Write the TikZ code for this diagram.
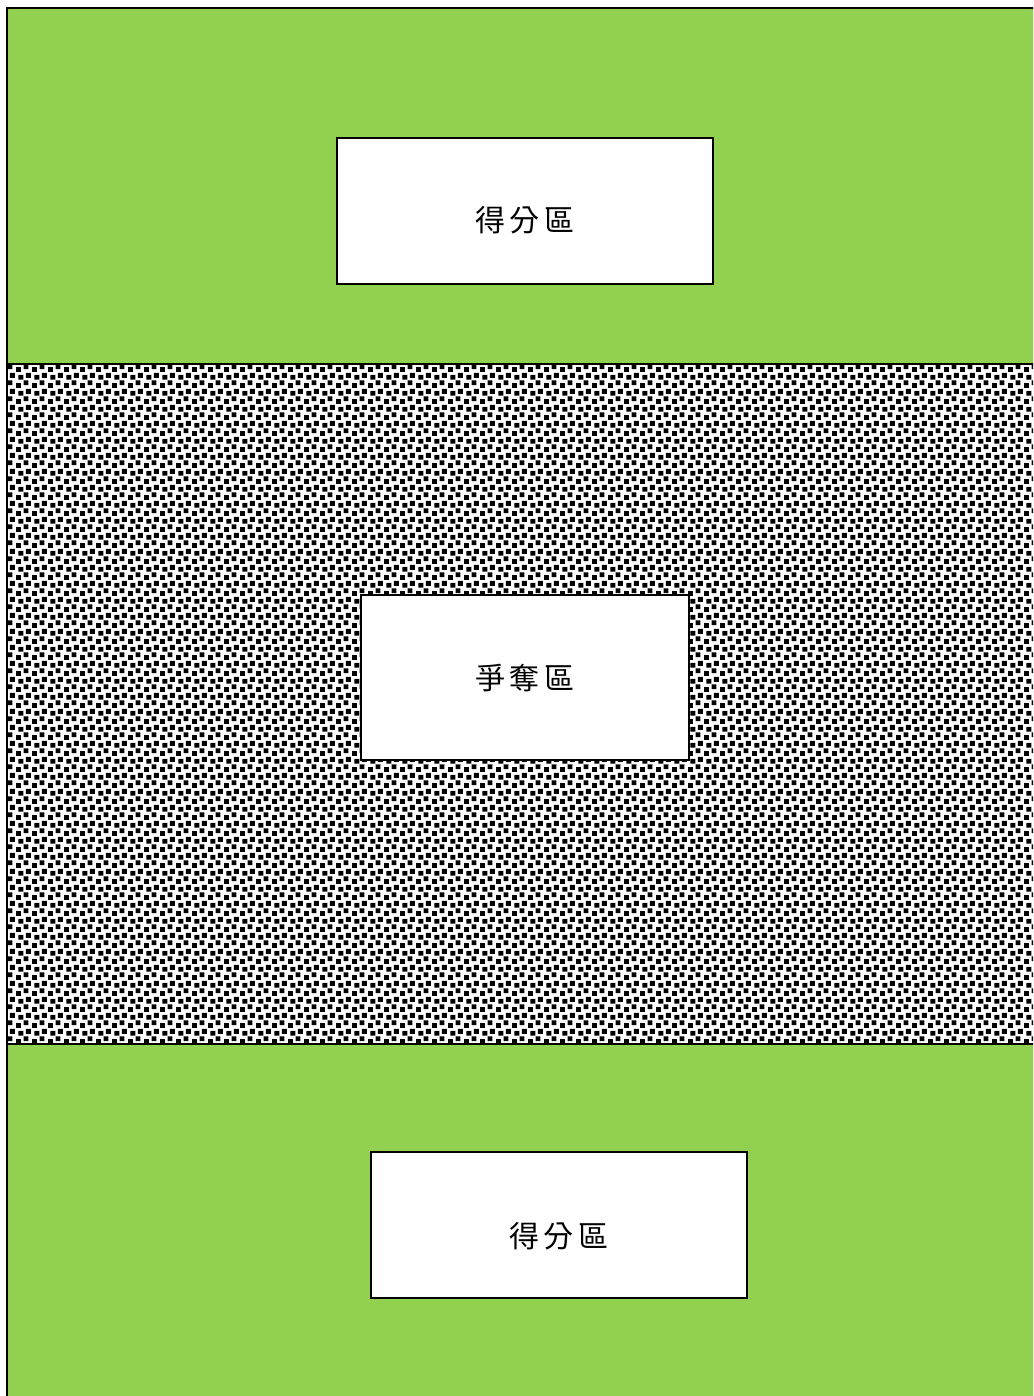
\documentclass[tikz,border=0pt]{standalone}
\usepackage{fontspec}
\newfontfamily\cjk{Noto Sans CJK TC}
\usetikzlibrary{patterns}
\definecolor{fieldgreen}{RGB}{146,208,80}
% scattered small squares for the middle strip
\pgfdeclarepatternformonly{confetti}{\pgfpointorigin}{\pgfqpoint{8pt}{8pt}}{\pgfqpoint{8pt}{8pt}}{
  \pgfpathrectangle{\pgfqpoint{0pt}{0pt}}{\pgfqpoint{2.6pt}{2.6pt}}
  \pgfpathrectangle{\pgfqpoint{4pt}{1.5pt}}{\pgfqpoint{2.6pt}{2.6pt}}
  \pgfpathrectangle{\pgfqpoint{1.3pt}{4.4pt}}{\pgfqpoint{2.6pt}{2.6pt}}
  \pgfpathrectangle{\pgfqpoint{5.3pt}{5.4pt}}{\pgfqpoint{2.6pt}{2.6pt}}
  \pgfusepath{fill}
}
\tikzset{
  area/.style={draw=black, line width=1pt, fill=white, inner sep=0pt},
  areatext/.style={font=\cjk\fontsize{15}{18}\selectfont, inner sep=0pt}
}
\begin{document}
\begin{tikzpicture}[x=0.5pt, y=-0.5pt]
    \useasboundingbox (0,0) rectangle (1033,1396);
    \begin{scope}
      \clip (0,0) rectangle (1033,1396);
      \fill[fieldgreen] (7,8) rectangle (1045,364);
      \fill[pattern=confetti] (7,364) rectangle (1045,1044);
      \fill[fieldgreen] (7,1044) rectangle (1045,1405);
      \draw[line width=1pt] (1045,8) -- (7,8) -- (7,1405);
      \draw[line width=1pt] (7,364) -- (1045,364);
      \draw[line width=1pt] (7,1044) -- (1045,1044);
    \end{scope}

    % score zones and middle zone
    \node[area, minimum width=188pt, minimum height=73pt] (topbox) at (525,211) {};
    \node[areatext] (toplabel) at (525,220) {得\,分\,區};
    \node[area, minimum width=164pt, minimum height=82.5pt] (midbox) at (525,677.5) {};
    \node[areatext] (midlabel) at (525,678) {爭\,奪\,區};
    \node[area, minimum width=188pt, minimum height=73pt] (botbox) at (559,1225) {};
    \node[areatext] (botlabel) at (559,1236) {得\,分\,區};
\end{tikzpicture}
\end{document}
